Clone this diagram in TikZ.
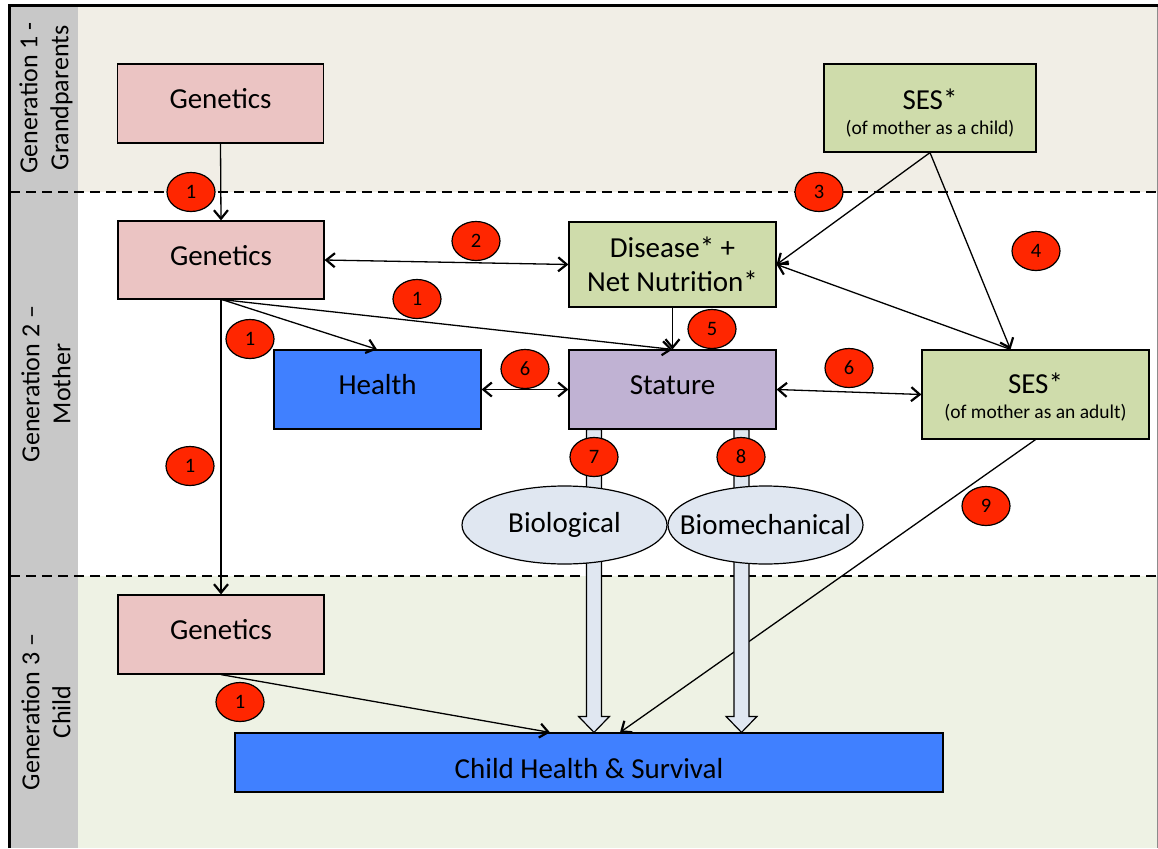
\documentclass[tikz,border=0pt]{standalone}
\usepackage{fontspec}
\setmainfont{Carlito}
\usetikzlibrary{arrows.meta,shapes.geometric,calc}
\definecolor{bgone}{HTML}{F1EEE6}
\definecolor{bgthree}{HTML}{EEF2E4}
\definecolor{sidegray}{HTML}{C8C8C8}
\definecolor{pinkc}{HTML}{EBC4C3}
\definecolor{greenc}{HTML}{CFDCAB}
\definecolor{bluec}{HTML}{4080FF}
\definecolor{lavc}{HTML}{C0B2D3}
\definecolor{ellc}{HTML}{E0E7F1}
\definecolor{redc}{HTML}{FF2600}
\begin{document}
\begin{tikzpicture}[x=1pt,y=-1pt,
  box/.style={draw=black, line width=1.2pt, inner sep=0pt, align=center,
    font=\fontsize{29}{34}\selectfont},
  onebox/.style={box, text height=19pt, text depth=9pt},
  lbl/.style={font=\fontsize{29}{34}\selectfont, inner sep=0pt},
  sublbl/.style={font=\fontsize{19.5}{24}\selectfont, inner sep=0pt},
  badge/.style={ellipse, draw=black, line width=1.2pt, fill=redc,
    minimum width=48pt, minimum height=39pt, inner sep=0pt,
    font=\fontsize{20.5}{20.5}\selectfont},
  oval/.style={ellipse, draw=black, line width=1.2pt, fill=ellc, inner xsep=-40pt, inner ysep=0pt,
    minimum height=78pt, font=\fontsize{29}{34}\selectfont},
  genlabel/.style={rotate=90, align=center, font=\fontsize{26}{31}\selectfont},
  conn/.style={line width=1.3pt, -{Straight Barb[length=8.5pt,width=14pt,line width=2.2pt]}},
  biconn/.style={line width=1.3pt, {Straight Barb[length=8.5pt,width=14pt,line width=2.2pt]}-{Straight Barb[length=8.5pt,width=14pt,line width=2.2pt]}},
  hollow/.style={draw=black, line width=1.2pt, fill=ellc, line join=miter},
  sep/.style={line width=2pt, dash pattern=on 10pt off 6pt}
]
\useasboundingbox (0,0) rectangle (1158,848);
% backgrounds
\fill[white] (0,0) rectangle (1158,848);
\fill[bgone] (10,5) rectangle (1157,192);
\fill[bgthree] (10,576) rectangle (1157,848);
\fill[sidegray] (10,5) rectangle (78,848);
% separators
\draw[sep] (10,192) -- (1157,192);
\draw[sep] (10,576) -- (1157,576);
% frame
\draw[line width=1pt, black!45] (1157,5) -- (1157,848);
\draw[line width=3pt] (9.5,848) -- (9.5,5.5) -- (1158,5.5);
% generation labels
\node[genlabel] (lab1) at (46,98) {Generation 1 -\\Grandparents};
\node[genlabel] (lab2) at (46,384) {Generation 2 –\\Mother};
\node[genlabel] (lab3) at (46,712) {Generation 3 –\\Child};
% boxes
\node[onebox, fill=pinkc, minimum width=206pt, minimum height=79pt] (g1) at (220.5,103.5) {Genetics};
\node[onebox, fill=pinkc, minimum width=206pt, minimum height=78pt] (g2) at (221,260) {Genetics};
\node[onebox, fill=pinkc, minimum width=206pt, minimum height=79pt] (g3) at (221,634.5) {Genetics};
\node[box, fill=greenc, minimum width=212pt, minimum height=88pt,
  label={[lbl, yshift=8.5pt]center:SES*},
  label={[sublbl, yshift=-20.5pt]center:(of mother as a child)}] (ses1) at (930,108) {};
\node[box, fill=greenc, minimum width=207pt, minimum height=85pt] (dis) at (672.5,264.5)
  {Disease* +\\Net Nutrition*};
\node[onebox, fill=bluec, minimum width=207pt, minimum height=79pt] (health) at (377.5,389.5) {Health};
\node[onebox, fill=lavc, minimum width=207pt, minimum height=79pt] (stat) at (672.5,389.5) {Stature};
\node[box, fill=greenc, minimum width=227pt, minimum height=89pt,
  label={[lbl, yshift=11pt]center:SES*},
  label={[sublbl, yshift=-18pt]center:(of mother as an adult)}] (ses2) at (1035.5,394.5) {};
\node[box, fill=bluec, minimum width=708pt, minimum height=59pt, text height=32pt, text depth=0pt] (child) at (589,762.5) {Child Health \& Survival};
% connectors
\draw[conn] (g1.south) -- (g2.north);
\draw[biconn] (g2.east) -- (dis.west);
\draw[conn] ([xshift=1pt]g2.south) -- ([xshift=-0.5pt]health.north);
\draw[conn] ([xshift=1pt]g2.south) -- (stat.north);
\draw[conn] (dis.south) -- (stat.north);
\draw[conn] (g2.south) -- (g3.north);
\draw[conn] (ses1.south) -- (dis.east);
\draw[conn] (ses1.south) -- ([xshift=-25pt]ses2.north);
\draw[conn] ([xshift=-25pt]ses2.north) -- (dis.east);
\draw[biconn] (health.east) -- (stat.west);
\draw[biconn] (stat.east) -- (ses2.west);
\draw[conn] (ses2.south) -- ([xshift=31pt]child.north);
\draw[conn] (g3.south) -- ([xshift=-39pt]child.north);
% hollow arrows
\coordinate (h1top) at ([xshift=-78.5pt]stat.south);
\coordinate (h1bot) at ([xshift=5pt]child.north);
\coordinate (h2top) at ([xshift=69pt]stat.south);
\coordinate (h2bot) at ([xshift=152.5pt]child.north);
\foreach \t/\b in {h1top/h1bot, h2top/h2bot}{
  \draw[hollow] ([xshift=-7.5pt]\t) -- ([xshift=-7.5pt,yshift=16pt]\b) -- ([xshift=-15.5pt,yshift=16pt]\b)
    -- (\b) -- ([xshift=15.5pt,yshift=16pt]\b) -- ([xshift=7.5pt,yshift=16pt]\b) -- ([xshift=7.5pt]\t) -- cycle;
}
% ovals
\node[oval, minimum width=205pt] (bio) at (564.5,525) {Biological};
\node[oval, minimum width=195pt] (biomech) at (765.5,525) {Biomechanical};
% badges
\node[badge] (b1a) at (191,192) {1};
\node[badge] (b3) at (819,192) {3};
\node[badge] (b2) at (476,241) {2};
\node[badge] (b4) at (1036,251) {4};
\node[badge] (b1b) at (417,299) {1};
\node[badge] (b1c) at (250,339) {1};
\node[badge] (b5) at (712,329) {5};
\node[badge] (b6a) at (525,369) {6};
\node[badge] (b6b) at (849,368) {6};
\node[badge] (b1d) at (190,466) {1};
\node[badge] (b7) at (594,457) {7};
\node[badge] (b8) at (741,457) {8};
\node[badge] (b9) at (986,506) {9};
\node[badge] (b1e) at (240,702) {1};
\end{tikzpicture}
\end{document}
